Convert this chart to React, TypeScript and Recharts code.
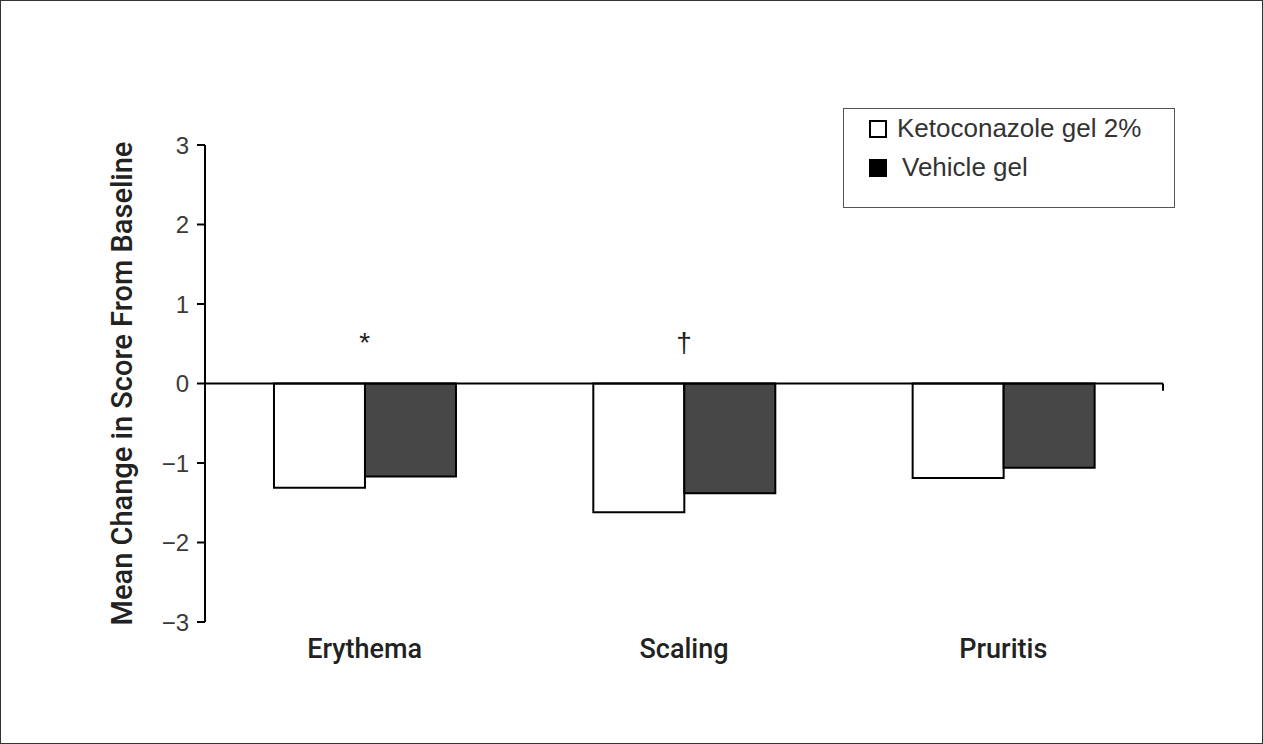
import { BarChart, Bar, XAxis, YAxis, ReferenceLine, ReferenceDot, Legend } from 'recharts';

const categories = ['Erythema', 'Scaling', 'Pruritis'];
const ketoconazole = [-1.31, -1.62, -1.19];
const vehicle = [-1.17, -1.38, -1.06];
const marks = ['*', '\u2020', ''];
const yTicks = [-3, -2, -1, 0, 1, 2, 3];
const boundaryTicks = [1, 2, 3];

const seriesNames = ['Ketoconazole gel 2%', 'Vehicle gel'];
const legendIcons = ['#ffffff', '#000000'];

const data = categories.map((c, i) => ({
  name: c,
  keto: ketoconazole[i],
  vehicle: vehicle[i],
}));

const fmtY = (v: number) => (v < 0 ? '\u2212' + Math.abs(v) : String(v));

const renderLegend = () => (
  <div style={{ fontFamily: '"Liberation Sans", Arial, sans-serif', fontSize: 26, color: '#333' }}>
    {seriesNames.map((n, i) => (
      <div key={n} style={{ display: 'flex', alignItems: 'center', height: 39, paddingLeft: 25 }}>
        <span
          style={{
            display: 'inline-block',
            width: 14,
            height: 14,
            background: legendIcons[i],
            border: '2px solid #000',
            marginRight: i === 0 ? 10 : 15,
          }}
        />
        <span>{n}</span>
      </div>
    ))}
  </div>
);

export default function App() {
  return (
    <div
      style={{
        position: 'absolute',
        left: 0,
        top: 0,
        width: 1263,
        height: 744,
        border: '1px solid #333',
        boxSizing: 'border-box',
        background: '#fff',
      }}
    >
      <div style={{ position: 'absolute', left: -1, top: -1 }}>
        <BarChart
          width={1263}
          height={744}
          data={data}
          margin={{ top: 145, right: 100, bottom: 92, left: 105 }}
          barCategoryGap="21.6%"
          barGap={0}
        >
          <XAxis
            dataKey="name"
            height={30}
            axisLine={false}
            tickLine={false}
            tickMargin={11}
            tick={{ fontSize: 27, fill: '#222', fontFamily: 'Roboto, "Liberation Sans", sans-serif', fontWeight: 500 }}
          />
          <XAxis xAxisId="grid" type="number" domain={[0, 3]} hide allowDataOverflow />
          <YAxis
            width={100}
            domain={[-3, 3]}
            ticks={yTicks}
            tickFormatter={fmtY}
            axisLine={{ stroke: '#000', strokeWidth: 2 }}
            tickLine={{ stroke: '#000', strokeWidth: 2 }}
            tickSize={8}
            tickMargin={8}
            tick={{ fontSize: 24, fill: '#3a3a3a', fontFamily: '"Liberation Sans", Arial, sans-serif' }}
            label={{
              value: 'Mean Change in Score From Baseline',
              angle: -90,
              position: 'insideLeft',
              offset: 17,
              style: {
                textAnchor: 'middle',
                fontSize: 29,
                fill: '#222',
                fontFamily: 'Roboto, "Liberation Sans", sans-serif',
                fontWeight: 500,
              },
            }}
          />
          <Legend
            layout="vertical"
            align="center"
            verticalAlign="middle"
            content={renderLegend}
            wrapperStyle={{
              left: 843,
              top: 108,
              width: 332,
              height: 100,
              border: '1px solid #555',
              boxSizing: 'border-box',
              background: '#fff',
            }}
          />
          <Bar dataKey="keto" name={seriesNames[0]} fill="#ffffff" stroke="#000" strokeWidth={2} isAnimationActive={false} />
          <Bar dataKey="vehicle" name={seriesNames[1]} fill="#474747" stroke="#000" strokeWidth={2} isAnimationActive={false} />
          <ReferenceLine y={0} stroke="#000" strokeWidth={2} />
          {boundaryTicks.map((t) => (
            <ReferenceLine
              key={t}
              xAxisId="grid"
              segment={[{ x: t, y: 0 }, { x: t, y: -0.09 }]}
              stroke="#000"
              strokeWidth={2}
            />
          ))}
          {categories.map((c, i) =>
            marks[i] ? (
              <ReferenceDot
                key={c}
                x={c}
                y={0.52}
                r={0}
                label={{
                  value: marks[i],
                  position: 'center',
                  fontSize: 28,
                  fill: '#222',
                  fontFamily: '"Liberation Sans", Arial, sans-serif',
                }}
              />
            ) : null
          )}
        </BarChart>
      </div>
    </div>
  );
}
